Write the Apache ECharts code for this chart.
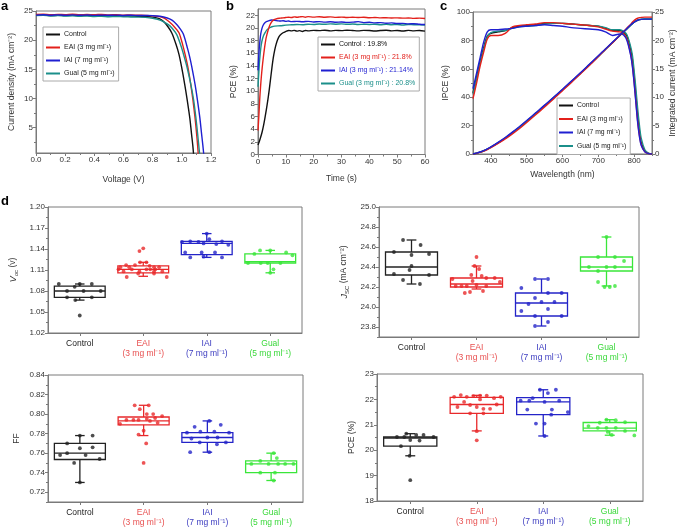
<!DOCTYPE html>
<html><head><meta charset="utf-8">
<script src="https://cdn.jsdelivr.net/npm/echarts@6/dist/echarts.min.js"></script>
<style>html,body{margin:0;padding:0;background:#fff}#c{width:682px;height:529px}</style>
</head><body><div id="c"></div>
<script>
// ---------- Panel a: J-V curves [V, J] ----------
var jvControl = [[0,24.25],[0.05,24.3],[0.1,24.2],[0.15,24.28],[0.2,24.22],[0.25,24.3],[0.3,24.18],[0.35,24.25],[0.4,24.2],[0.45,24.26],[0.5,24.15],[0.55,24.22],[0.6,24.12],[0.65,24.15],[0.7,24.08],[0.75,24.05],[0.8,23.95],[0.845,23.7],[0.875,23.2],[0.905,22.3],[0.932,21.2],[0.96,19.3],[0.98,17.6],[0.998,15.45],[1.02,12.4],[1.037,9.74],[1.055,6.6],[1.066,4.03],[1.075,2.0],[1.082,0]];
var jvEAI = [[0,24.4],[0.05,24.45],[0.1,24.35],[0.15,24.42],[0.2,24.38],[0.25,24.45],[0.3,24.35],[0.35,24.4],[0.4,24.36],[0.45,24.42],[0.5,24.33],[0.55,24.38],[0.6,24.3],[0.65,24.33],[0.7,24.28],[0.75,24.25],[0.8,24.18],[0.855,24.0],[0.885,23.7],[0.915,23.1],[0.945,22.4],[0.965,21.8],[0.982,21.2],[1.006,19.2],[1.024,17.4],[1.041,15.45],[1.06,12.6],[1.076,9.74],[1.09,6.8],[1.101,4.03],[1.108,2.0],[1.114,0]];
var jvIAI = [[0,24.3],[0.05,24.36],[0.1,24.28],[0.15,24.34],[0.2,24.27],[0.25,24.33],[0.3,24.26],[0.35,24.32],[0.4,24.25],[0.45,24.3],[0.5,24.26],[0.55,24.3],[0.6,24.24],[0.65,24.28],[0.7,24.24],[0.75,24.22],[0.8,24.2],[0.85,24.1],[0.9,23.8],[0.935,23.4],[0.965,22.7],[0.99,21.9],[1.011,21.0],[1.04,18.5],[1.055,17.0],[1.068,15.45],[1.09,12.5],[1.107,9.74],[1.123,6.8],[1.135,4.03],[1.144,2.0],[1.152,0]];
var jvGual = [[0,24.2],[0.05,24.25],[0.1,24.15],[0.15,24.2],[0.2,24.12],[0.25,24.18],[0.3,24.1],[0.35,24.15],[0.4,24.06],[0.45,24.1],[0.5,24.02],[0.55,24.06],[0.6,24.0],[0.65,23.98],[0.7,23.95],[0.75,23.9],[0.8,23.75],[0.855,23.4],[0.905,22.7],[0.935,22.0],[0.966,20.9],[1.001,18.5],[1.018,17.0],[1.035,15.45],[1.061,12.5],[1.081,9.74],[1.096,6.8],[1.108,4.03],[1.116,2.0],[1.124,0]];

// ---------- Panel b: PCE vs time [t, PCE] ----------
var ptControl = [[0,1.5],[0.5,2.1],[1,2.8],[1.5,3.6],[2,4.6],[2.5,5.8],[3,7.1],[3.5,8.5],[4,10.1],[4.5,11.9],[5,13.7],[5.5,15.3],[6,16.5],[6.5,17.4],[7,18.1],[7.5,18.6],[8,18.9],[9,19.25],[10,19.45],[11,19.6],[12,19.55],[13,19.62],[14,19.5],[15,19.58],[16,19.45],[17,19.6],[18,19.55],[20,19.62],[22,19.58],[24,19.65],[26,19.55],[28,19.62],[30,19.58],[32,19.65],[34,19.6],[36,19.55],[38,19.62],[40,19.6],[42,19.52],[44,19.6],[46,19.65],[48,19.55],[50,19.6],[52,19.52],[54,19.62],[56,19.55],[58,19.6],[60,19.5]];
var ptEAI = [[0,3.8],[0.3,6],[0.6,8.6],[0.9,10.6],[1.2,12.3],[1.5,13.7],[1.8,14.9],[2.1,16],[2.4,17],[2.7,17.9],[3,18.6],[3.6,19.6],[4.2,20.4],[4.8,20.9],[5.4,21.2],[6,21.35],[7,21.5],[8,21.55],[9,21.6],[10,21.65],[11,21.7],[12,21.65],[13,21.75],[14,21.7],[15,21.75],[16,21.8],[17,21.7],[18,21.8],[20,21.72],[22,21.78],[24,21.7],[26,21.75],[28,21.68],[30,21.72],[32,21.65],[34,21.7],[36,21.66],[38,21.7],[40,21.62],[42,21.66],[44,21.6],[46,21.62],[48,21.58],[50,21.6],[52,21.55],[54,21.58],[56,21.52],[58,21.55],[60,21.5]];
var ptIAI = [[0,13.3],[0.2,15],[0.4,16.5],[0.7,18],[1,19.1],[1.4,19.9],[1.8,20.4],[2.4,20.8],[3,21.0],[4,21.15],[4.8,21.25],[6,21.2],[7,21.15],[8,21.1],[9,21.15],[10,21.05],[11,21.1],[12,21.0],[14,21.05],[16,20.98],[18,21.05],[20,20.95],[22,21.0],[24,20.92],[26,20.98],[28,20.9],[30,20.95],[32,20.88],[34,20.92],[36,21.0],[38,20.85],[40,20.9],[42,20.8],[44,20.85],[46,20.75],[48,20.8],[50,20.7],[52,20.72],[54,20.65],[56,20.68],[58,20.6],[60,20.55]];
var ptGual = [[0,10.7],[0.3,13],[0.6,15],[1,16.8],[1.4,17.9],[2,18.8],[2.6,19.3],[3.2,19.7],[4,20.0],[5,20.2],[6,20.3],[8,20.35],[10,20.45],[12,20.5],[14,20.55],[16,20.5],[18,20.6],[20,20.55],[22,20.62],[24,20.58],[26,20.65],[28,20.6],[30,20.65],[32,20.58],[34,20.62],[36,20.55],[38,20.6],[40,20.55],[42,20.6],[44,20.52],[46,20.58],[48,20.5],[50,20.55],[52,20.48],[54,20.55],[56,20.5],[58,20.52],[60,20.45]];

// ---------- Panel c: IPCE and integrated current ----------
var wl = [350,360,370,380,390,400,420,440,460,480,500,525,550,575,600,625,650,675,700,720,740,760,770,780,790,795,800,805,810,815,820,830,840,850];
var ipceControl = [43,54,65,75,83,85,86,87,89,90,90.5,91,92,92,92,91.5,91,90.5,90,88.5,87,87,86,83,74,67,55,41,27,16,8,2,0.4,0];
var ipceEAI = [39,50,62,72,81,83.5,83.5,85,89.5,90.5,91,91.5,92.5,92.5,92,91.5,91,90.5,89.5,88,86.5,86,85,81,71,63,51,37,23,13,6.5,1.5,0.3,0];
var ipceIAI = [46,57,68,79,86,87.5,87.5,88,88.5,89.5,90,90.5,91,90.5,90,89,88.5,88,87.5,86,83.5,84.5,84,80,70,62,50,36,22,12,6,1.5,0.3,0];
var ipceGual = [42,53,64,74,82.5,85.5,86.5,87,88.5,89.5,90,90.5,91.5,92,92,91.5,91,90.5,90,89,87.5,87.5,86.5,84,76,70,59,46,32,20,11,3,0.6,0];
var intControl = [0,0.14,0.33,0.57,0.86,1.2,1.97,2.8,3.75,4.72,5.78,7.12,8.5,9.9,11.3,12.75,14.2,15.7,17.2,18.45,19.65,20.85,21.45,22.05,22.65,22.95,23.2,23.4,23.55,23.65,23.7,23.75,23.75,23.75];
var intEAI = [0,0.12,0.3,0.5,0.78,1.1,1.85,2.65,3.55,4.5,5.55,6.9,8.3,9.7,11.15,12.6,14.1,15.6,17.15,18.4,19.6,20.85,21.5,22.2,22.8,23.2,23.5,23.75,23.9,24.0,24.05,24.1,24.1,24.1];
var intIAI = [0,0.15,0.35,0.6,0.9,1.25,2.05,2.9,3.85,4.85,5.9,7.25,8.6,10.0,11.4,12.85,14.3,15.8,17.3,18.5,19.7,20.9,21.5,22.1,22.7,23.0,23.2,23.4,23.55,23.65,23.7,23.75,23.75,23.75];
var intGual = [0,0.14,0.33,0.56,0.85,1.19,1.95,2.78,3.72,4.7,5.75,7.1,8.48,9.88,11.28,12.73,14.18,15.68,17.18,18.43,19.63,20.83,21.43,22.03,22.63,22.95,23.2,23.42,23.58,23.68,23.73,23.77,23.77,23.77];

// ---------- Panel d: box statistics [min, Q1, median, Q3, max] ----------
var cats = ['Control','EAI\n(3 mg ml\u207B\u00B9)','IAI\n(7 mg ml\u207B\u00B9)','Gual\n(5 mg ml\u207B\u00B9)'];
var vocStats = [[1.067,1.071,1.080,1.087,1.090],[1.101,1.106,1.111,1.116,1.121],[1.128,1.132,1.148,1.151,1.162],[1.106,1.120,1.122,1.133,1.138]];
var jscStats = [[24.23,24.32,24.40,24.55,24.67],[24.18,24.20,24.23,24.29,24.41],[23.81,23.91,24.04,24.14,24.28],[24.21,24.36,24.40,24.50,24.70]];
var ffStats = [[0.730,0.7535,0.760,0.770,0.778],[0.778,0.789,0.793,0.797,0.809],[0.761,0.771,0.776,0.781,0.793],[0.732,0.740,0.749,0.752,0.760]];
var pceStats = [[19.78,20.16,20.48,20.52,20.65],[20.76,21.45,21.8,22.08,22.16],[20.56,21.4,21.9,22.07,22.38],[20.59,20.76,20.87,21.09,21.2]];

// individual devices [jitter within category, value]
var vocControl = [[-0.33,1.090],[0.0,1.090],[0.19,1.090],[-0.08,1.086],[-0.2,1.080],[0.06,1.080],[0.33,1.080],[-0.2,1.071],[0.19,1.071],[-0.07,1.067],[0,1.045]];
var vocEAI = [[0.0,1.141],[-0.06,1.137],[-0.05,1.121],[0.05,1.121],[-0.27,1.117],[-0.13,1.117],[0.1,1.116],[-0.36,1.114],[-0.22,1.114],[0.17,1.114],[0.25,1.114],[-0.39,1.111],[-0.18,1.111],[0.05,1.111],[0.11,1.111],[0.19,1.111],[-0.31,1.108],[-0.06,1.108],[0.17,1.108],[0.3,1.108],[-0.08,1.105],[0.17,1.105],[-0.26,1.100],[0.37,1.100]];
var vocIAI = [[0,1.162],[0.04,1.154],[-0.39,1.150],[-0.26,1.151],[-0.13,1.150],[-0.05,1.148],[0.15,1.147],[0.24,1.151],[0.34,1.146],[-0.34,1.135],[-0.08,1.135],[0.13,1.135],[-0.26,1.128],[-0.05,1.129],[0.24,1.128]];
var vocGual = [[-0.16,1.138],[0,1.138],[0.25,1.135],[-0.25,1.133],[0.35,1.131],[-0.35,1.120],[-0.15,1.120],[-0.04,1.120],[0.16,1.120],[0.05,1.111],[0,1.106]];
var jscControl = [[-0.13,24.67],[0.14,24.62],[-0.27,24.55],[0.27,24.53],[0,24.52],[0,24.41],[-0.03,24.37],[-0.27,24.33],[0.27,24.32],[-0.13,24.27],[0.13,24.23]];
var jscEAI = [[0,24.50],[-0.03,24.41],[0.04,24.38],[-0.08,24.32],[0.08,24.31],[0.15,24.29],[0.28,24.29],[-0.37,24.28],[-0.06,24.26],[0.36,24.25],[-0.32,24.21],[-0.23,24.21],[-0.15,24.21],[0,24.22],[0.15,24.21],[-0.1,24.15],[0.1,24.16],[-0.18,24.14]];
var jscIAI = [[-0.1,24.28],[0.1,24.28],[-0.31,24.19],[-0.1,24.09],[0.1,24.14],[0.31,24.14],[-0.2,24.03],[0,24.05],[0.2,24.05],[-0.31,23.96],[0.1,23.98],[-0.1,23.91],[0.31,23.91],[0.1,23.85],[-0.1,23.81]];
var jscGual = [[0,24.70],[-0.13,24.50],[0.13,24.50],[0.27,24.46],[-0.27,24.40],[0,24.40],[0.13,24.40],[-0.13,24.36],[-0.13,24.25],[0.13,24.21],[-0.03,24.20],[0.05,24.20]];
var ffControl = [[0,0.778],[0.2,0.778],[-0.2,0.770],[0,0.765],[0.2,0.766],[-0.31,0.758],[-0.2,0.760],[0.09,0.758],[0.31,0.754],[-0.09,0.750],[0,0.730]];
var ffEAI = [[-0.14,0.809],[0.08,0.809],[-0.06,0.805],[0.15,0.800],[0.05,0.800],[-0.37,0.790],[-0.27,0.794],[-0.16,0.794],[-0.08,0.794],[0.05,0.795],[0.18,0.796],[0.29,0.798],[0.1,0.793],[0.22,0.791],[0,0.783],[-0.08,0.779],[0.04,0.770],[0,0.750]];
var ffIAI = [[0.03,0.793],[0.21,0.789],[-0.2,0.787],[-0.32,0.781],[-0.11,0.782],[0.11,0.782],[0.34,0.781],[-0.25,0.775],[0,0.776],[0.16,0.776],[-0.12,0.771],[0.29,0.771],[0.15,0.769],[-0.27,0.761],[0.03,0.761]];
var ffGual = [[0.04,0.760],[0.09,0.755],[-0.17,0.752],[-0.31,0.749],[-0.04,0.749],[0.11,0.749],[0.22,0.749],[0.35,0.749],[-0.17,0.740],[0.06,0.740],[0.04,0.732]];
var pceControl = [[-0.06,20.65],[0.09,20.6],[0.2,20.6],[-0.2,20.52],[-0.09,20.52],[0.35,20.52],[0,20.4],[0.14,20.38],[-0.14,20.16],[-0.01,19.78],[0,18.82]];
var pceEAI = [[-0.24,22.17],[-0.34,22.1],[-0.15,22.1],[-0.05,22.13],[0.05,22.15],[0.15,22.15],[0.26,22.05],[0.36,22.1],[-0.19,21.9],[0.05,22.0],[-0.29,21.7],[-0.1,21.78],[0,21.7],[0.1,21.63],[0.2,21.63],[0.3,21.8],[-0.1,21.45],[0.1,21.45],[0,20.75],[0,20.39]];
var pceIAI = [[-0.05,22.38],[0.19,22.38],[0.07,22.25],[-0.16,22.05],[-0.34,21.95],[-0.21,21.95],[0.02,21.9],[0.24,21.95],[-0.24,21.6],[0.13,21.6],[0.37,21.5],[0.12,21.4],[-0.11,21.05],[0.02,21.05],[0.02,20.56]];
var pceGual = [[-0.05,21.2],[0.09,21.18],[0.23,21.1],[-0.15,21.08],[-0.32,20.95],[-0.18,20.88],[-0.05,20.88],[0.09,20.88],[0.23,20.76],[-0.03,20.72],[0.37,20.58],[0.03,20.6]];

// ---------- names ----------
var sup1 = '\u207B\u00B9', sup2 = '\u207B\u00B2';
var namesAC = ['Control','EAI (3 mg ml'+sup1+')','IAI (7 mg ml'+sup1+')','Gual (5 mg ml'+sup1+')'];
var namesB = ['Control : 19.8%','EAI (3 mg ml'+sup1+') : 21.8%','IAI (3 mg ml'+sup1+') : 21.14%','Gual (3 mg ml'+sup1+') : 20.8%'];

var FONT = '"Liberation Sans", Arial, Helvetica, sans-serif';
var AX = '#7a7a7a', TX = '#333';
var lineCols = ['#111111','#e3201b','#1f1fd1','#1b8f8a'];
var boxCols = ['#222222','#e8292b','#2424c8','#3ae63a'];
var catLabelCols = ['#222222','#e85050','#3c3cc0','#3ad83a'];

function vAxis(o){
  var a = {type:'value', gridIndex:o.g, min:o.min, max:o.max, position:o.pos,
    axisLine:{show:true,onZero:false,lineStyle:{color:AX,width:1}},
    axisTick:{show:true,inside:false,length:3,lineStyle:{color:AX}},
    axisLabel:{show:true,fontSize:o.fs||8,color:TX,fontFamily:FONT,margin:o.margin||3},
    splitLine:{show:false},
    name:o.name, nameLocation:'middle', nameGap:o.nameGap,
    nameTextStyle:{fontSize:o.nfs||8.5,color:TX,fontFamily:FONT}};
  if(o.rich) a.nameTextStyle.rich = o.rich;
  if(o.interval!=null) a.interval = o.interval;
  if(o.ticks){ a.axisTick.customValues = o.ticks; a.axisLabel.customValues = o.ticks; }
  if(o.fmt) a.axisLabel.formatter = o.fmt;
  if(o.minor) a.minorTick = {show:true,splitNumber:o.minor,length:2,lineStyle:{color:AX}};
  return a;
}
function minorAx(g,min,max,vals,pos){
  return {type:'value',gridIndex:g,min:min,max:max,position:pos,
    axisLine:{show:false,onZero:false},
    axisTick:{show:true,length:2,customValues:vals,lineStyle:{color:AX}},
    axisLabel:{show:false},splitLine:{show:false}};
}
function catAx(g){
  return {type:'category',gridIndex:g,data:cats,position:'bottom',
    axisLine:{show:true,onZero:false,lineStyle:{color:AX}},
    axisTick:{show:true,alignWithLabel:true,length:3,lineStyle:{color:AX}},
    axisLabel:{fontSize:8.5,fontFamily:FONT,lineHeight:10,margin:6,interval:0,
      color:function(v,i){return catLabelCols[i];}},
    splitLine:{show:false}};
}
function hidX(g){ return {type:'value',gridIndex:g,min:-0.5,max:3.5,show:false}; }
function rng(a,b,s,d){ var r=[]; for(var v=a; v<=b+1e-9; v+=s) r.push(+v.toFixed(d)); return r; }

var grids = [
  {left:36, top:11, width:175, height:142},
  {left:258, top:9, width:167, height:145.5},
  {left:473, top:12, width:179, height:142},
  {left:48, top:207, width:254, height:126},
  {left:379, top:207, width:260, height:130},
  {left:48, top:375, width:255, height:127},
  {left:377, top:374, width:266, height:127}
].map(function(g){ g.show=true; g.borderColor=AX; g.borderWidth=1; g.containLabel=false; return g; });

var xAxes = [
  vAxis({g:0,min:0,max:1.2,interval:0.2,minor:2,pos:'bottom',fmt:function(v){return v.toFixed(1);},name:'Voltage (V)',nameGap:22}),
  vAxis({g:1,min:0,max:60,interval:10,minor:2,pos:'bottom',name:'Time (s)',nameGap:20}),
  vAxis({g:2,min:350,max:850,ticks:[400,500,600,700,800],pos:'bottom',name:'Wavelength (nm)',nameGap:16}),
  minorAx(2,350,850,[450,550,650,750,850],'bottom'),
  catAx(3), catAx(4), catAx(5), catAx(6),
  hidX(3), hidX(4), hidX(5), hidX(6)
];
var richV = {i:{fontSize:9,fontStyle:'italic',fontFamily:FONT,color:TX,lineHeight:12,verticalAlign:'middle'},
             s:{fontSize:6,fontFamily:FONT,color:TX,lineHeight:12,verticalAlign:'bottom'},
             n:{fontSize:8.5,fontFamily:FONT,color:TX,lineHeight:12,verticalAlign:'middle'}};
var yAxes = [
  vAxis({g:0,min:0.66,max:25,ticks:[5,10,15,20,25],pos:'left',name:'Current density (mA cm'+sup2+')',nameGap:20}),
  minorAx(0,0.66,25,[2.5,7.5,12.5,17.5,22.5],'left'),
  vAxis({g:1,min:0,max:23,ticks:rng(0,22,2,0),pos:'left',name:'PCE (%)',nameGap:20}),
  vAxis({g:2,min:0,max:100,interval:20,minor:2,pos:'left',name:'IPCE (%)',nameGap:23}),
  vAxis({g:2,min:0,max:25,interval:5,minor:2,pos:'right',name:'Integrated current (mA cm'+sup2+')',nameGap:16}),
  vAxis({g:3,min:1.02,max:1.20,interval:0.03,minor:2,pos:'left',fmt:function(v){return v.toFixed(2);},name:'{i|V}{s|oc}{n| (v)}',rich:richV,nameGap:29}),
  vAxis({g:4,min:23.7,max:25.0,ticks:rng(23.8,25.0,0.2,1),pos:'left',fmt:function(v){return v.toFixed(1);},name:'{i|J}{s|SC}{n| (mA cm'+sup2+')}',rich:richV,nameGap:29}),
  minorAx(4,23.7,25.0,rng(23.7,24.9,0.2,1),'left'),
  vAxis({g:5,min:0.71,max:0.84,ticks:rng(0.72,0.84,0.02,2),pos:'left',fmt:function(v){return v.toFixed(2);},name:'FF',nameGap:27}),
  minorAx(5,0.71,0.84,rng(0.71,0.83,0.02,2),'left'),
  vAxis({g:6,min:18,max:23,interval:1,minor:2,pos:'left',name:'PCE (%)',nameGap:21})
];

function lineS(name,data,xi,yi,col,w){
  return {type:'line',name:name,data:data,xAxisIndex:xi,yAxisIndex:yi,symbol:'none',smooth:0.3,
    lineStyle:{color:col,width:w||1.4},itemStyle:{color:col},clip:true,animation:false};
}
function pairs(xs,ys){ return xs.map(function(x,i){return [x,ys[i]];}); }

function boxRender(params, api){
  var i = api.value(0);
  var pMin = api.coord([i, api.value(1)]), pQ1 = api.coord([i, api.value(2)]),
      pMed = api.coord([i, api.value(3)]), pQ3 = api.coord([i, api.value(4)]),
      pMax = api.coord([i, api.value(5)]);
  var hw = api.size([0.4,0])[0], cw = api.size([0.075,0])[0];
  var col = boxCols[i], x = pMed[0];
  var st = {stroke:col, lineWidth:1.3, fill:null};
  return {type:'group', children:[
    {type:'rect', shape:{x:x-hw, y:pQ3[1], width:2*hw, height:pQ1[1]-pQ3[1]}, style:{stroke:col,fill:'rgba(255,255,255,0)',lineWidth:1.3}},
    {type:'line', shape:{x1:x-hw,y1:pMed[1],x2:x+hw,y2:pMed[1]}, style:st},
    {type:'line', shape:{x1:x,y1:pQ3[1],x2:x,y2:pMax[1]}, style:st},
    {type:'line', shape:{x1:x,y1:pQ1[1],x2:x,y2:pMin[1]}, style:st},
    {type:'line', shape:{x1:x-cw,y1:pMax[1],x2:x+cw,y2:pMax[1]}, style:st},
    {type:'line', shape:{x1:x-cw,y1:pMin[1],x2:x+cw,y2:pMin[1]}, style:st}
  ]};
}
function boxSeries(stats, xi, yi){
  return {type:'custom', xAxisIndex:xi, yAxisIndex:yi, renderItem:boxRender, animation:false,
    encode:{x:0,y:[1,2,3,4,5]},
    data: stats.map(function(s,i){ return [i].concat(s); })};
}
function ptSeries(groups, xi, yi){
  var d = [];
  groups.forEach(function(g,i){ g.forEach(function(p){ d.push([i+p[0], p[1], i]); }); });
  return {type:'scatter', xAxisIndex:xi, yAxisIndex:yi, symbol:'circle', symbolSize:3.8, animation:false,
    data:d, itemStyle:{color:function(p){return boxCols[p.data[2]];}}};
}

var series = [
  lineS(namesAC[0],jvControl,0,0,lineCols[0]),
  lineS(namesAC[1],jvEAI,0,0,lineCols[1]),
  lineS(namesAC[3],jvGual,0,0,lineCols[3]),
  lineS(namesAC[2],jvIAI,0,0,lineCols[2]),
  lineS(namesB[0],ptControl,1,2,lineCols[0]),
  lineS(namesB[3],ptGual,1,2,lineCols[3]),
  lineS(namesB[2],ptIAI,1,2,lineCols[2]),
  lineS(namesB[1],ptEAI,1,2,lineCols[1]),
  lineS(namesAC[0],pairs(wl,ipceControl),2,3,lineCols[0]),
  lineS(namesAC[3],pairs(wl,ipceGual),2,3,lineCols[3]),
  lineS(namesAC[1],pairs(wl,ipceEAI),2,3,lineCols[1]),
  lineS(namesAC[2],pairs(wl,ipceIAI),2,3,lineCols[2]),
  lineS(namesAC[0],pairs(wl,intControl),2,4,lineCols[0]),
  lineS(namesAC[3],pairs(wl,intGual),2,4,lineCols[3]),
  lineS(namesAC[1],pairs(wl,intEAI),2,4,lineCols[1]),
  lineS(namesAC[2],pairs(wl,intIAI),2,4,lineCols[2]),
  boxSeries(vocStats,8,5), ptSeries([vocControl,vocEAI,vocIAI,vocGual],8,5),
  boxSeries(jscStats,9,6), ptSeries([jscControl,jscEAI,jscIAI,jscGual],9,6),
  boxSeries(ffStats,10,8), ptSeries([ffControl,ffEAI,ffIAI,ffGual],10,8),
  boxSeries(pceStats,11,10), ptSeries([pceControl,pceEAI,pceIAI,pceGual],11,10)
];

function legendCfg(left, top, data, gap, fs, pad){
  return {left:left, top:top, orient:'vertical', data:data, icon:'rect', itemWidth:14, itemHeight:2,
    itemGap:gap, selectedMode:false, textStyle:{fontSize:fs,color:'#222',fontFamily:FONT,padding:[0,0,0,-1]},
    borderColor:'#aaa', borderWidth:1, padding:pad, backgroundColor:'#fff', z:10};
}
var legB = namesB.map(function(n,i){ return {name:n, textStyle:{color:lineCols[i]}}; });

var option = {
  backgroundColor:'#fff',
  animation:false,
  textStyle:{fontFamily:FONT},
  grid: grids,
  xAxis: xAxes,
  yAxis: yAxes,
  legend: [
    legendCfg(43,27,namesAC,6,7,[4,4,4,3]),
    legendCfg(318,37,legB,6,7,[4,4,4,3]),
    legendCfg(557,98,namesAC,6.5,6.8,[4,4,5,2])
  ],
  graphic: [
    {type:'text', left:1, top:0, style:{text:'a', font:'bold 13px '+FONT, fill:'#000'}},
    {type:'text', left:226, top:0, style:{text:'b', font:'bold 13px '+FONT, fill:'#000'}},
    {type:'text', left:440, top:0, style:{text:'c', font:'bold 13px '+FONT, fill:'#000'}},
    {type:'text', left:1, top:195, style:{text:'d', font:'bold 13px '+FONT, fill:'#000'}}
  ],
  series: series
};
var chart = echarts.init(document.getElementById('c'));
chart.setOption(option);
</script></body></html>
